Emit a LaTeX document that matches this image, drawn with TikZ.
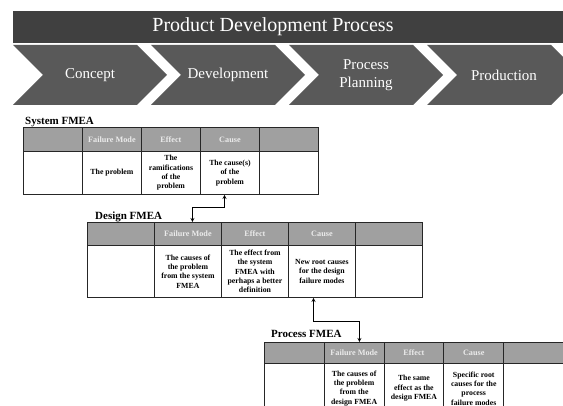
\documentclass[tikz,border=0pt]{standalone}
\usepackage{fontspec}
\setmainfont{Liberation Serif}
\usepackage{tikz}
\usetikzlibrary{arrows,positioning}
\usepackage{xcolor}
\definecolor{pdbar}{RGB}{64,64,64}
\definecolor{pdphase}{RGB}{89,89,89}
\definecolor{pdhead}{RGB}{160,160,160}
\tikzstyle{phase} = [text=white, font=\rmfamily\fontsize{15}{18}\selectfont, align=center, inner sep=0pt]
\tikzstyle{cell} = [rectangle, draw=black!85, line width=0.9pt, anchor=north west, inner sep=0pt, align=center, font=\fontsize{7.8}{9.3}\selectfont\bfseries]
\tikzstyle{headcell} = [cell, fill=pdhead, text=white!92!black, font=\fontsize{8.2}{9.3}\selectfont\bfseries]
\tikzstyle{bodycell} = [cell, fill=white]
\tikzstyle{tabletitle} = [anchor=base west, inner sep=0pt, font=\fontsize{11}{13}\selectfont\bfseries]
\tikzstyle{link} = [thick,<->,>=stealth]

\begin{document}
\begin{tikzpicture}[x=1pt,y=-1pt]
\useasboundingbox (0,0) rectangle (563,406);

% process bar
\fill[pdbar] (13,11) rectangle (563,43);
\node[text=white, font=\rmfamily\fontsize{20}{24}\selectfont, inner sep=0pt] (title) at (273,27) {Product Development Process};
\foreach \x/\lbl [count=\i] in {13/Concept, 151/Development, 289/{Process\\Planning}, 427/Production} {
  \fill[pdphase] (\x,45) -- ++(124,0) -- ++(30,30) -- ++(-30,30) -- ++(-124,0) -- ++(30,-30) -- cycle;
  \node[phase] (phase\i) at (\x+77,75) {\lbl};
}

% system FMEA
\tikzstyle{sysh} = [headcell, minimum width=59pt, minimum height=24pt]
\tikzstyle{sysb} = [bodycell, minimum width=59pt, minimum height=43pt]
\node[tabletitle] (systitle) at (25,125) {System FMEA};
\node[sysh] (sh1) at (23,127) {};
\node[sysh] (sh2) at (82,127) {Failure Mode};
\node[sysh] (sh3) at (141,127) {Effect};
\node[sysh] (sh4) at (200,127) {Cause};
\node[sysh] (sh5) at (259,127) {};
\node[sysb] (sb1) at (23,151) {};
\node[sysb] (sb2) at (82,151) {The problem};
\node[sysb] (sb3) at (141,151) {The\\ramifications\\of the\\problem};
\node[sysb] (sb4) at (200,151) {The cause(s)\\of the\\problem};
\node[sysb] (sb5) at (259,151) {};

% design FMEA
\tikzstyle{desh} = [headcell, minimum width=67pt, minimum height=23pt]
\tikzstyle{desb} = [bodycell, minimum width=67pt, minimum height=52pt]
\node[tabletitle] (destitle) at (95,220) {Design FMEA};
\node[desh] (dh1) at (87,222) {};
\node[desh] (dh2) at (154,222) {Failure Mode};
\node[desh] (dh3) at (221,222) {Effect};
\node[desh] (dh4) at (288,222) {Cause};
\node[desh] (dh5) at (355,222) {};
\node[desb] (db1) at (87,245) {};
\node[desb] (db2) at (154,245) {The causes of\\the problem\\from the system\\FMEA};
\node[desb] (db3) at (221,245) {The effect from\\the system\\FMEA with\\perhaps a better\\definition};
\node[desb] (db4) at (288,245) {New root causes\\for the design\\failure modes};
\node[desb] (db5) at (355,245) {};

% process FMEA
\tikzstyle{proh} = [headcell, minimum width=59.8pt, minimum height=21pt]
\tikzstyle{prob} = [bodycell, minimum width=59.8pt, minimum height=50pt]
\node[tabletitle] (protitle) at (271,338) {Process FMEA};
\node[proh] (ph1) at (264,342) {};
\node[proh] (ph2) at (323.8,342) {Failure Mode};
\node[proh] (ph3) at (383.6,342) {Effect};
\node[proh] (ph4) at (443.4,342) {Cause};
\node[proh] (ph5) at (503.2,342) {};
\node[prob] (pb1) at (264,363) {};
\node[prob] (pb2) at (323.8,363) {The causes of\\the problem\\from the\\design FMEA};
\node[prob] (pb3) at (383.6,363) {The same\\effect as the\\design FMEA};
\node[prob] (pb4) at (443.4,363) {Specific root\\causes for the\\process\\failure modes};
\node[prob] (pb5) at (503.2,363) {};

\draw[link] ([xshift=-5.5pt]sb4.south) -- ++(0,13) -| ([xshift=4.5pt]dh2.north);
\draw[link] ([xshift=-8.5pt]db4.south) -- ++(0,24) -| ([xshift=5.3pt]ph2.north);
\end{tikzpicture}
\end{document}
